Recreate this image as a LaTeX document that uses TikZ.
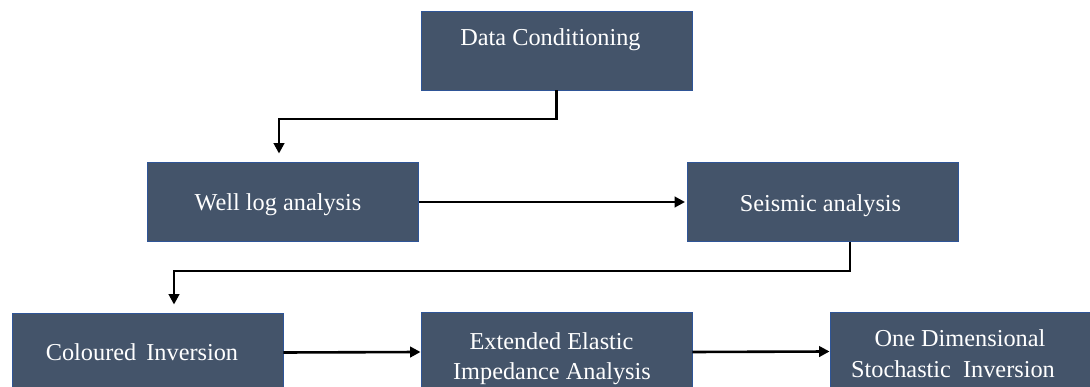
\documentclass[tikz,border=0pt]{standalone}
\usepackage{fontspec}
\setmainfont{Liberation Serif}
\usetikzlibrary{arrows.meta}
\definecolor{boxfill}{HTML}{44546A}
\definecolor{boxedge}{HTML}{2F5597}
\begin{document}
\begin{tikzpicture}[x=1pt,y=-1pt,
  box/.style={draw=boxedge, line width=0.9pt, fill=boxfill,
              minimum width=271pt, minimum height=79pt, inner sep=0pt},
  lbl/.style={text=white, font=\fontsize{24.3}{29}\selectfont,
              anchor=base, inner sep=0pt},
  link/.style={line width=2.6pt, line join=miter,
               -{Triangle[length=10.5pt,width=10.5pt]}},
]
\useasboundingbox (0,0) rectangle (1090,387);
\clip (0,0) rectangle (1090,387);

% process boxes
\node[box] (dc)   at (556.5, 50.5) {};
\node[box] (wl)   at (283,  202)   {};
\node[box] (sa)   at (822.5,202)   {};
\node[box] (ci)   at (147.5,352.5) {};
\node[box] (eei)  at (556.5,352)   {};
\node[box] (odsi) at (965.5,351.5) {};

% box captions
\node[lbl] (dct)   at (550.5, 45.7) {Data Conditioning};
\node[lbl] (wlt)   at (278,  211)   {Well log analysis};
\node[lbl] (sat)   at (820.5,211.5) {Seismic analysis};
\node[lbl] (cit)   at (142,  360.5) {Coloured\hspace{4pt} Inversion};
\node[lbl] (eeit1) at (551.5,350)   {Extended Elastic};
\node[lbl] (eeit2) at (552,  380)   {Impedance Analysis};
\node[lbl] (odt1)  at (960,  347)   {One Dimensional};
\node[lbl] (odt2)  at (953,  377.5) {Stochastic\hspace{6pt} Inversion};

% elbow connectors
\coordinate (k1) at (279,119);
\coordinate (k2) at (850,271);
\coordinate (k3) at (174,271);
\draw[link, shorten >=8.5pt] (dc.south) |- (k1) -- (k1 |- wl.north);
\draw[link, shorten >=8pt] (k2 |- sa.south) -- (k2) -- (k3) -- (k3 |- ci.north);

% straight connectors
\draw[link, shorten >=1.5pt] (wl.east) -- (sa.west);
\draw[link] (ci.east) -- (eei.west);
\draw[link] (eei.east) -- (odsi.west);
\end{tikzpicture}
\end{document}
